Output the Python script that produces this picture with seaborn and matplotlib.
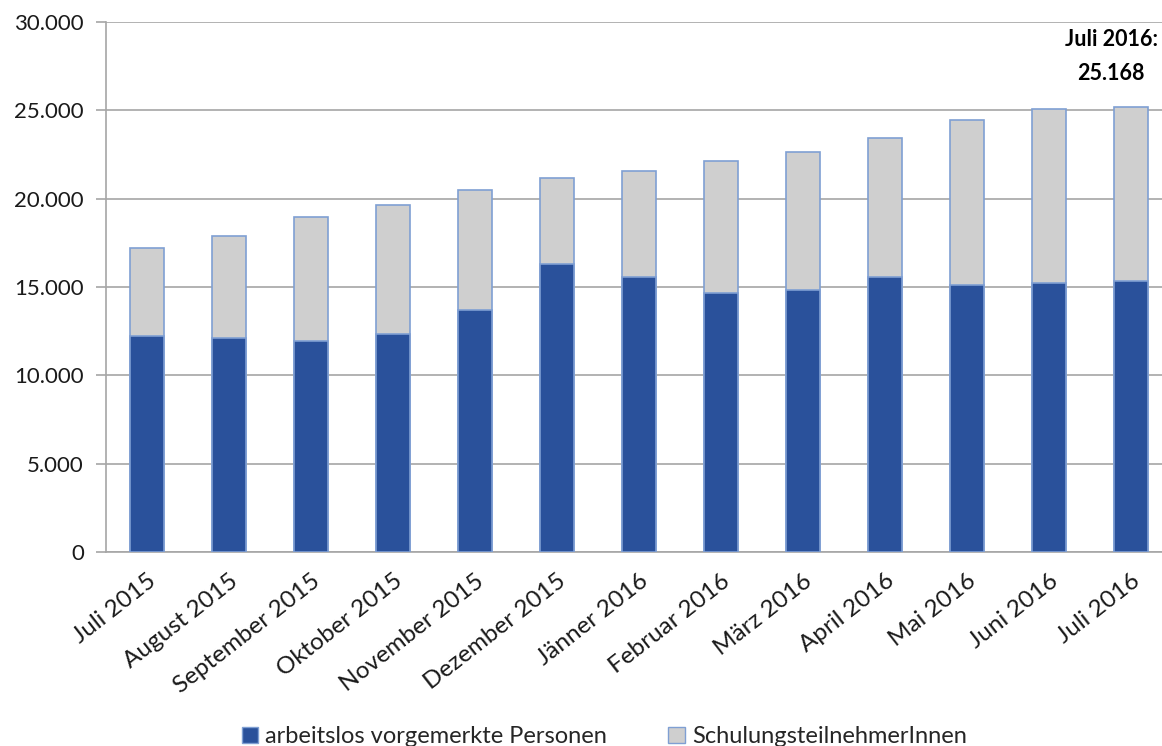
import numpy as np
import pandas as pd
import matplotlib
matplotlib.use('Agg')
import matplotlib.pyplot as plt
import seaborn as sns
from matplotlib.ticker import FuncFormatter
from matplotlib.patches import Patch

# Monthly values
months = ['Juli 2015', 'August 2015', 'September 2015', 'Oktober 2015', 'November 2015',
          'Dezember 2015', 'Jänner 2016', 'Februar 2016', 'März 2016', 'April 2016',
          'Mai 2016', 'Juni 2016', 'Juli 2016']
arbeitslos = [12200, 12130, 11920, 12360, 13710, 16310, 15550, 14690, 14840, 15550, 15120, 15250, 15330]
schulung = [5030, 5770, 7060, 7300, 6760, 4880, 6030, 7460, 7800, 7910, 9340, 9820, 9838]

df = pd.DataFrame({'Monat': months, 'arbeitslos': arbeitslos, 'schulung': schulung})
df['gesamt'] = df['arbeitslos'] + df['schulung']

blue = '#2A519B'
grey = '#CFCFCF'
edge = '#7F9FD3'
line_col = '#A6A6A6'

sns.set_style('white')
plt.rcParams['font.family'] = ['Lato', 'DejaVu Sans']

fig = plt.figure(figsize=(11.62, 7.46), dpi=100)
ax = fig.add_axes([0.0912, 0.26, 0.9174, 0.7105])

# Stacked bars: total in grey first, then the blue part over it
sns.barplot(data=df, x='Monat', y='gesamt', color=grey, width=0.42,
            edgecolor=edge, linewidth=1.2, saturation=1, ax=ax, zorder=3)
sns.barplot(data=df, x='Monat', y='arbeitslos', color=blue, width=0.42,
            edgecolor=edge, linewidth=1.2, saturation=1, ax=ax, zorder=4)

ax.set_xlim(-0.5, 12.5)
ax.set_ylim(0, 30000)
ax.set_yticks(np.arange(0, 30001, 5000))
ax.yaxis.set_major_formatter(FuncFormatter(lambda v, p: f'{int(v):,}'.replace(',', '.')))
ax.yaxis.grid(True, color=line_col, linewidth=1.2, zorder=0)
ax.set_axisbelow(True)
ax.set_xlabel('')
ax.set_ylabel('')

for s in ['top', 'right']:
    ax.spines[s].set_visible(False)
for s in ['left', 'bottom']:
    ax.spines[s].set_color(line_col)
    ax.spines[s].set_linewidth(1.2)

ax.set_xticks(np.arange(-0.5, 13, 1), minor=True)
ax.tick_params(axis='x', which='minor', length=7, color=line_col, width=1.2)
ax.tick_params(axis='x', which='major', length=0, pad=13, labelsize=17.5, labelcolor='#1a1a1a')
ax.tick_params(axis='y', length=7, color=line_col, width=1.2, pad=9, labelsize=16, labelcolor='#1a1a1a')
ax.tick_params(axis='y', left=True)
plt.setp(ax.get_xticklabels(), rotation=38, ha='right', rotation_mode='anchor')

# Highlight of the last value
ax.text(11.76, 28050, 'Juli 2016:\n25.168', ha='center', va='center', fontsize=15.5,
        fontweight='bold', linespacing=1.75, color='black')

handles = [Patch(facecolor=blue, edgecolor=edge, label='arbeitslos vorgemerkte Personen'),
           Patch(facecolor=grey, edgecolor=edge, label='SchulungsteilnehmerInnen')]
fig.legend(handles=handles, loc='lower center', bbox_to_anchor=(0.52, -0.03), ncol=2,
           frameon=False, fontsize=17, handlelength=0.7, handleheight=0.7,
           handletextpad=0.3, columnspacing=2.6)

fig.savefig('out.png', dpi=100)
